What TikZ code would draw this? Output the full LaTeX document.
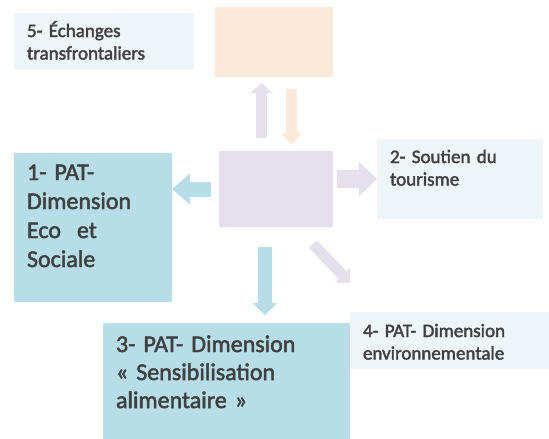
\documentclass[tikz,border=0pt]{standalone}
\usepackage{fontspec}
\setmainfont{Carlito}
\newfontfamily\boxfont{Carlito}[FakeBold=2]
\usetikzlibrary{arrows.meta}
\definecolor{MyAqua}{HTML}{B7DEE8}
\definecolor{MyPale}{HTML}{EEF6F9}
\definecolor{MyPeach}{HTML}{FDE9D9}
\definecolor{MyLilac}{HTML}{E5E0EC}
\definecolor{MyGray}{HTML}{404040}
\newcommand{\txtlarge}{\boxfont\fontsize{24pt}{29pt}\selectfont}
\newcommand{\txtsmall}{\boxfont\fontsize{19pt}{22.5pt}\selectfont}

\begin{document}
\begin{tikzpicture}[x=1pt, y=-1pt,
	box/.style={anchor=north west, inner xsep=13pt, inner ysep=0pt, outer sep=0pt, align=left, text=MyGray},
	blank/.style={anchor=north west, inner sep=0pt, outer sep=0pt},
	fat/.style n args={4}{draw=#1, line width=#2, -{Triangle[width=#3, length=#4, line width=0pt]}}]
	\useasboundingbox (0,0) rectangle (549,439);

	\node[box, fill=MyPale, font=\txtsmall, text width=154pt, text height=24pt, text depth=33pt] (echange) at (14,13) {5- Échanges\\transfrontaliers};
	\node[blank, fill=MyPeach, minimum width=118pt, minimum height=70pt] (top) at (215,7) {};
	\node[blank, fill=MyLilac, minimum width=114pt, minimum height=76pt] (core) at (219,151) {};
	\node[box, fill=MyAqua, font=\txtlarge, text width=132pt, text height=27pt, text depth=122pt] (eco) at (14,153) {1- PAT-\\Dimension\\Eco\ \ et\\Sociale};
	\node[box, fill=MyPale, font=\txtsmall, text width=140pt, text height=24pt, text depth=56pt] (tour) at (377,139) {2- Soutien du\\tourisme};
	\node[box, fill=MyAqua, font=\txtlarge\linespread{0.966}\selectfont, text width=221pt, text height=29pt, text depth=87pt] (sens) at (103,323) {3- PAT- Dimension\\« Sensibilisation\\alimentaire »};
	\node[box, fill=MyPale, font=\txtsmall, text width=173pt, text height=25pt, text depth=32pt] (envi) at (350,312) {4- PAT- Dimension\\environnementale};

	\coordinate (upfoot) at (261.5,138);
	\coordinate (uphead) at (261.5,83);
	\coordinate (dnfoot) at (291.5,89);
	\coordinate (dnhead) at (291.5,145);
	\coordinate (rfoot) at (337,179);
	\coordinate (sfoot) at (265,247);
	\coordinate (shead) at (265,315);
	\coordinate (diagfoot) at (313,244);
	\coordinate (diaghead) at (350,283);

	\draw[fat={MyLilac}{11pt}{22pt}{10pt}] (upfoot) -- (uphead);
	\draw[fat={MyPeach}{11pt}{21pt}{12pt}] (dnfoot) -- (dnhead);
	\draw[fat={MyAqua}{15pt}{31pt}{18pt}] ([xshift=-8pt]core.west) -- (core.west -| eco.east);
	\draw[fat={MyLilac}{18pt}{34pt}{18pt}] (rfoot) -- (tour.west);
	\draw[fat={MyAqua}{13.5pt}{25pt}{12pt}] (sfoot) -- (shead);
	\draw[fat={MyLilac}{11pt}{21pt}{10.6pt}] (diagfoot) -- (diaghead);
\end{tikzpicture}
\end{document}
